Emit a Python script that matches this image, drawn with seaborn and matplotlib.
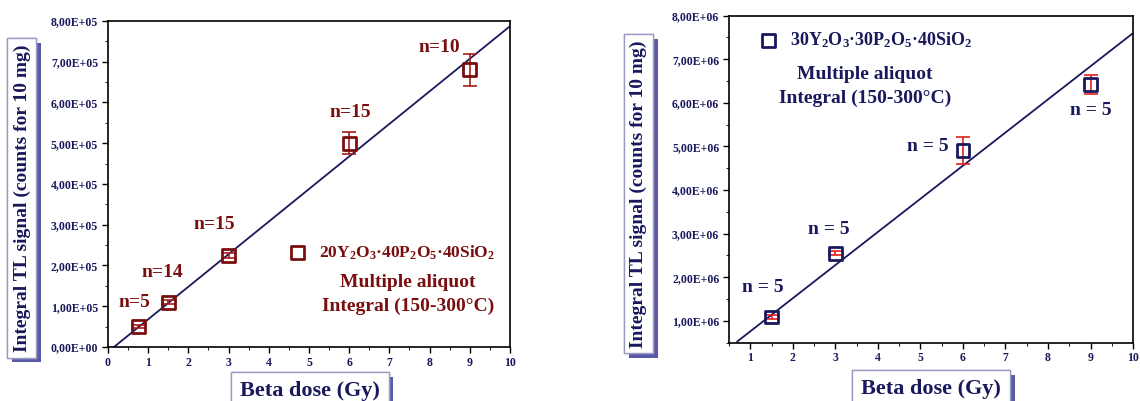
import numpy as np
import seaborn as sns
import matplotlib.pyplot as plt
import matplotlib.patheffects as pe
from matplotlib.ticker import FuncFormatter, MultipleLocator

# left panel: 20Y2O3-40P2O5-40SiO2
dose_a = [0.75, 1.5, 3, 6, 9]
signal_a = [5.0e4, 1.1e5, 2.25e5, 5.0e5, 6.8e5]
err_a = [4e3, 5e3, 6e3, 2.7e4, 4.0e4]
n_a = ['n=5', 'n=14', 'n=15', 'n=15', 'n=10']
fit_a = (79900, -12000)   # slope, intercept

# right panel: 30Y2O3-30P2O5-40SiO2
dose_b = [1.5, 3, 6, 9]
signal_b = [1.09e6, 2.55e6, 4.9e6, 6.42e6]
err_b = [5e4, 5e4, 3.1e5, 2.2e5]
n_b = ['n = 5', 'n = 5', 'n = 5', 'n = 5']
fit_b = (760000, 0)

navy = '#18185c'
dred = '#7a0e0e'
FS = 14

sns.set_theme(style='ticks')
plt.rcParams['font.family'] = ['Liberation Serif', 'DejaVu Serif']
plt.rcParams['font.weight'] = 'bold'
plt.rcParams['mathtext.fontset'] = 'custom'
plt.rcParams['mathtext.rm'] = 'Liberation Serif:bold'
plt.rcParams['mathtext.bf'] = 'Liberation Serif:bold'
plt.rcParams['mathtext.default'] = 'bf'

fig = plt.figure(figsize=(11.4, 4.01), dpi=100)
ax1 = fig.add_axes([0.0947, 0.1347, 0.3526, 0.813])
ax2 = fig.add_axes([0.6395, 0.1454, 0.3544, 0.8155])

sci = FuncFormatter(lambda v, p: f'{v:.2E}'.replace('.', ','))


def panel(ax, x, y, e, labels, offs, fit, mcol, ecol, xlim, ylim, xticks, ylab_at, xlab_at):
    xs = np.linspace(xlim[0], xlim[1], 200)
    ys = fit[0] * xs + fit[1]
    keep = ys >= ylim[0]
    sns.lineplot(x=xs[keep], y=ys[keep], ax=ax, color=navy, lw=1.3, zorder=2)
    ax.errorbar(x, y, yerr=e, fmt='none', ecolor=ecol, elinewidth=1.2,
                capsize=5, capthick=1.2, zorder=3)
    sns.scatterplot(x=x, y=y, ax=ax, marker='s', s=85, facecolors='none',
                    edgecolor=mcol, linewidth=2, zorder=4)
    for xi, yi, t, o in zip(x, y, labels, offs):
        ax.annotate(t, (xi, yi), xytext=o, textcoords='offset points',
                    ha='center', va='center', fontsize=FS, color=mcol,
                    fontweight='bold')
    ax.set_xlim(*xlim)
    ax.set_ylim(*ylim)
    ax.set_xticks(xticks)
    ax.xaxis.set_minor_locator(MultipleLocator(0.5))
    ax.yaxis.set_major_locator(MultipleLocator(1e6 if ylim[1] > 1e6 else 1e5))
    ax.yaxis.set_minor_locator(MultipleLocator(5e5 if ylim[1] > 1e6 else 5e4))
    ax.yaxis.set_major_formatter(sci)
    ax.tick_params(which='major', direction='out', length=4, width=1,
                   labelsize=8.5, labelcolor=navy, color='black', pad=3)
    ax.tick_params(which='minor', direction='out', length=2, width=0.8)
    for lab in ax.get_xticklabels() + ax.get_yticklabels():
        lab.set_fontweight('bold')
    for s in ax.spines.values():
        s.set_visible(True)
        s.set_linewidth(1.2)
        s.set_color('black')
    box = dict(boxstyle='square,pad=0.3', fc='white', ec='#9a9ac0', lw=1)
    yl = ax.set_ylabel('Integral TL signal (counts for 10 mg)', fontsize=FS,
                       color=navy, fontweight='bold', bbox=box)
    xl = ax.set_xlabel('Beta dose (Gy)', fontsize=16, color=navy,
                       fontweight='bold', bbox=dict(box, boxstyle='square,pad=0.4'))
    ax.yaxis.set_label_coords(*ylab_at)
    ax.xaxis.set_label_coords(*xlab_at)
    yl.set_va('center')
    xl.set_va('center')
    for t in (yl, xl):
        t.get_bbox_patch().set_path_effects(
            [pe.withSimplePatchShadow(offset=(3.5, -3.5), shadow_rgbFace='#5a5aa8',
                                      alpha=1), pe.Normal()])


panel(ax1, dose_a, signal_a, err_a, n_a,
      [(-3, 17), (-4, 21), (-10, 22), (1, 22), (-22, 16)],
      fit_a, dred, '#a41c1c', (0, 10), (0, 8e5), range(0, 11),
      (-0.214, 0.457), (0.502, -0.135))
panel(ax2, dose_b, signal_b, err_b, n_b,
      [(-6, 21), (-5, 17), (-25, 3), (0, -19)],
      fit_b, navy, '#e02020', (0.5, 10), (5e5, 8e6), range(1, 11),
      (-0.224, 0.455), (0.5, -0.142))

# composition "legends"
h1 = ax1.scatter([], [], marker='s', s=85, facecolors='none', edgecolors=dred,
                 linewidths=2, label=r'20Y$_2$O$_3$·40P$_2$O$_5$·40SiO$_2$')
lg1 = ax1.legend(handles=[h1], loc='center left', bbox_to_anchor=(0.39, 0.29),
                 frameon=False, handletextpad=0.2, prop=dict(size=12.5, weight='bold'))
for t in lg1.get_texts():
    t.set_color(dred)
ax1.text(0.746, 0.16, 'Multiple aliquot\nIntegral (150-300°C)', transform=ax1.transAxes,
         ha='center', va='center', fontsize=FS, color=dred, fontweight='bold',
         linespacing=1.5)

h2 = ax2.scatter([], [], marker='s', s=85, facecolors='none', edgecolors=navy,
                 linewidths=2, label=r'30Y$_2$O$_3$·30P$_2$O$_5$·40SiO$_2$')
lg2 = ax2.legend(handles=[h2], loc='center left', bbox_to_anchor=(0.012, 0.925),
                 frameon=False, handletextpad=0.2, prop=dict(size=13, weight='bold'))
for t in lg2.get_texts():
    t.set_color(navy)
ax2.text(0.337, 0.782, 'Multiple aliquot\nIntegral (150-300°C)', transform=ax2.transAxes,
         ha='center', va='center', fontsize=FS, color=navy, fontweight='bold',
         linespacing=1.5)

plt.savefig('out.png', dpi=100)
